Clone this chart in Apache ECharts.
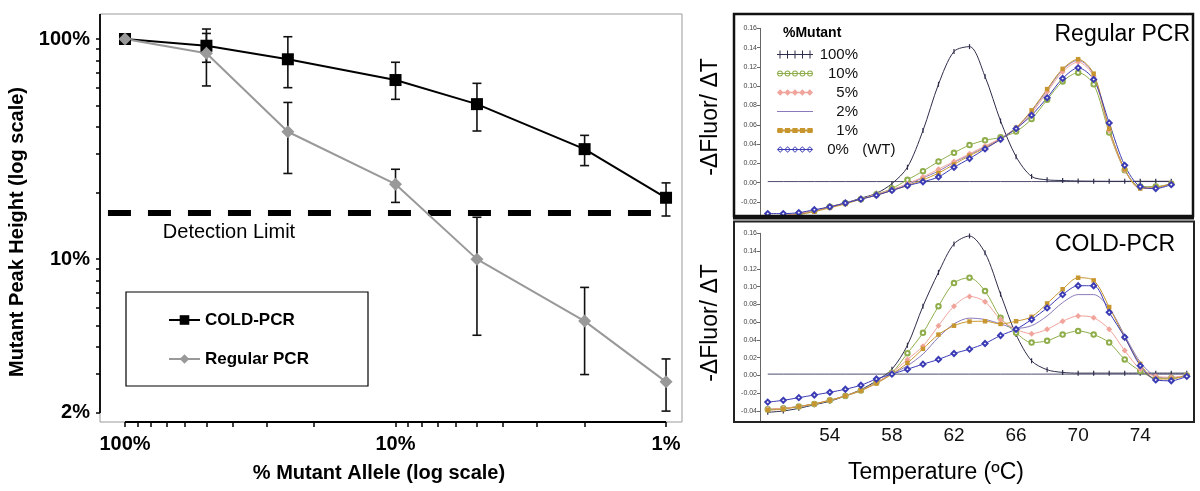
<!DOCTYPE html>
<html><head><meta charset="utf-8">
<script src="https://cdn.jsdelivr.net/npm/echarts@6/dist/echarts.min.js"></script>
<style>html,body{margin:0;padding:0;background:#fff}#c{width:1200px;height:491px}</style>
</head><body><div id="c"></div>
<script>
// ---------- Left panel data ----------
const pctAllele = [100, 50, 25, 10, 5, 2, 1];
const coldPeak = [100, 93.2, 80.9, 65.1, 50.6, 31.6, 19.0];
const coldUpper = [null, 106, 102.4, 78.4, 62.9, 36.5, 22.2];
const coldLower = [null, 78.4, 60.1, 53.2, 38.2, 26.6, 15.7];
const regularPeak = [100, 86.1, 37.9, 21.9, 10.0, 5.23, 2.77];
const regularUpper = [null, 111, 51.5, 25.6, 15.5, 7.44, 3.52];
const regularLower = [null, 61.2, 24.5, 18.1, 4.51, 2.99, 2.04];
const detectionLimit = 16.2;
const detectionSpan = [115.6, 1.07];
const xTickValues = [1,2,3,4,5,6,7,8,9,10,20,30,40,50,60,70,80,90,100];
const xLabelValues = [1, 10, 100];
const yTickValues = [2,3,4,5,6,7,8,9,10,20,30,40,50,60,70,80,90,100];
const yLabelValues = [2, 10, 100];
const X_MIN = 0.873, X_MAX = 123.7, Y_MIN = 1.82, Y_MAX = 129.9;

// ---------- Right panels data ----------
const tempsTop = [50,51,52,53,54,55,56,57,58,59,60,61,62,63,64,65,66,67,68,69,70,71,72,73,74,75,76];
const reg100 = [-0.035,-0.035,-0.033,-0.029,-0.025,-0.021,-0.016,-0.011,-0.001,0.016,0.054,0.102,0.136,0.141,0.110,0.064,0.027,0.0065,0.003,0.0023,0.0018,0.0016,0.0015,0.0015,0.0015,0.0015,0.0015];
const reg10 = [-0.034,-0.034,-0.032,-0.029,-0.025,-0.021,-0.017,-0.012,-0.006,0.003,0.012,0.022,0.031,0.039,0.044,0.047,0.053,0.066,0.086,0.105,0.114,0.102,0.052,0.013,-0.004,-0.004,-0.001];
const reg5 = [-0.035,-0.034,-0.032,-0.029,-0.025,-0.021,-0.017,-0.012,-0.007,-0.001,0.006,0.014,0.022,0.030,0.038,0.046,0.056,0.072,0.094,0.115,0.125,0.110,0.054,0.013,-0.005,-0.005,-0.001];
const reg2 = [-0.035,-0.034,-0.032,-0.029,-0.025,-0.021,-0.017,-0.012,-0.008,-0.002,0.005,0.012,0.021,0.029,0.037,0.046,0.057,0.074,0.096,0.117,0.127,0.112,0.055,0.014,-0.005,-0.005,-0.001];
const reg1 = [-0.036,-0.035,-0.033,-0.030,-0.026,-0.022,-0.017,-0.013,-0.008,-0.003,0.003,0.010,0.019,0.028,0.036,0.045,0.057,0.075,0.097,0.118,0.128,0.113,0.056,0.014,-0.006,-0.005,-0.001];
const reg0 = [-0.032,-0.032,-0.031,-0.028,-0.025,-0.021,-0.017,-0.013,-0.008,-0.003,0.001,0.006,0.016,0.025,0.035,0.045,0.056,0.070,0.088,0.108,0.119,0.107,0.062,0.018,-0.004,-0.006,-0.002];
const regBase = [0.0012,0.0012,0.0012,0.0012,0.0012,0.0012,0.0012,0.0012,0.0012,0.0012,0.0012,0.0012,0.0012,0.0012,0.0012,0.0012,0.0012,0.0012,0.0012,0.0012,0.0012,0.0012,0.0012,0.0012,0.0012,0.0012,0.0012];

const tempsBottom = [50,51,52,53,54,55,56,57,58,59,60,61,62,63,64,65,66,67,68,69,70,71,72,73,74,75,76,77];
const cold100 = [-0.0415,-0.040,-0.037,-0.033,-0.029,-0.023,-0.016,-0.006,0.007,0.034,0.078,0.116,0.148,0.157,0.138,0.0915,0.046,0.0165,0.0064,0.0034,0.0026,0.0026,0.0026,0.0026,0.0026,0.0026,0.0026,0.0026];
const cold10 = [-0.038,-0.037,-0.035,-0.032,-0.028,-0.023,-0.017,-0.008,0.003,0.025,0.048,0.078,0.104,0.110,0.095,0.065,0.048,0.037,0.039,0.046,0.050,0.046,0.037,0.018,0.005,-0.003,-0.003,0.0];
const cold5 = [-0.038,-0.037,-0.035,-0.032,-0.028,-0.023,-0.017,-0.008,0.003,0.018,0.033,0.056,0.078,0.089,0.083,0.063,0.052,0.047,0.052,0.061,0.067,0.065,0.052,0.028,0.007,-0.001,-0.002,0.0];
const cold2 = [-0.039,-0.037,-0.035,-0.032,-0.028,-0.023,-0.017,-0.008,0.0015,0.011,0.024,0.043,0.058,0.0645,0.063,0.058,0.053,0.056,0.067,0.082,0.091,0.091,0.076,0.045,0.015,-0.001,-0.003,0.0];
const cold1 = [-0.039,-0.038,-0.035,-0.032,-0.028,-0.023,-0.017,-0.009,0.0015,0.014,0.030,0.046,0.056,0.0607,0.061,0.058,0.061,0.066,0.081,0.097,0.110,0.107,0.077,0.043,0.013,-0.004,-0.004,0.0];
const cold0 = [-0.030,-0.028,-0.025,-0.022,-0.019,-0.0155,-0.011,-0.004,0.0015,0.007,0.0127,0.018,0.0247,0.0296,0.036,0.045,0.052,0.063,0.076,0.091,0.101,0.101,0.071,0.043,0.011,-0.005,-0.006,-0.001];
const coldBase = [0.0015,0.0015,0.0015,0.0015,0.0015,0.0015,0.0015,0.0015,0.0015,0.0015,0.0015,0.0015,0.0015,0.0015,0.0015,0.0015,0.0015,0.0015,0.0015,0.0015,0.0015,0.0015,0.0015,0.0015,0.0015,0.0015,0.0015,0.0015];

const tempLabels = [54, 58, 62, 66, 70, 74];
const topYTicks = [-0.02,0,0.02,0.04,0.06,0.08,0.10,0.12,0.14,0.16];
const bottomYTicks = [-0.04,-0.02,0,0.02,0.04,0.06,0.08,0.10,0.12,0.14,0.16];
const mutantNames = ['100%','10%','5%','2%','1%','0% (WT)'];

const FONT = '"Liberation Sans", Arial, Helvetica, sans-serif';

// ---------- legend icon paths (36 x 10 box) ----------
const ICON_W = 36, MARKS = [3, 10.5, 18, 25.5, 33];
const lineBar = (h) => `M0,${5-h/2}H${ICON_W}V${5+h/2}H0Z`;
const circ = (cx, r, sweep) => `M${cx-r},5A${r},${r} 0 1,${sweep} ${cx+r},5A${r},${r} 0 1,${sweep} ${cx-r},5Z`;
const diam = (cx, r, cw) => cw ? `M${cx-r},5L${cx},${5-r}L${cx+r},5L${cx},${5+r}Z` : `M${cx-r},5L${cx},${5+r}L${cx+r},5L${cx},${5-r}Z`;
const iconPaths = [
  'path://' + lineBar(1) + MARKS.map(x => `M${x-0.5},1H${x+0.5}V9H${x-0.5}Z`).join(''),
  'path://' + lineBar(1) + MARKS.map(x => circ(x, 2.9, 1) + circ(x, 1.9, 0)).join(''),
  'path://' + lineBar(1.4) + MARKS.map(x => diam(x, 3.3, true)).join(''),
  'path://' + lineBar(1),
  'path://' + lineBar(2) + MARKS.map(x => `M${x-2.6},2.4H${x+2.6}V7.6H${x-2.6}Z`).join(''),
  'path://' + lineBar(1) + MARKS.map(x => diam(x, 3.3, true) + diam(x, 2.2, false)).join('')
];

const meltStyles = [
  {color:'#2e2e4c', symbol:'path://M0,0L1,0L1,8L0,8Z', size:[1.2,5], bw:0},
  {color:'#8fae4b', symbol:'emptyCircle', size:4.5, bw:0.9},
  {color:'#f0a49b', symbol:'diamond', size:6, bw:0},
  {color:'#8a7abb', symbol:'none', size:0, bw:0},
  {color:'#c8962f', symbol:'rect', size:4.5, bw:0},
  {color:'#3b3bb5', symbol:'emptyDiamond', size:5, bw:0.8}
];

function meltSeries(idx, temps, vals, axis) {
  const st = meltStyles[idx];
  return {
    type:'line', name: mutantNames[idx], xAxisIndex: axis, yAxisIndex: axis,
    data: temps.map((t,i)=>[t, vals[i]]),
    smooth: 0.3, symbol: st.symbol, symbolSize: st.size, showSymbol: st.symbol !== 'none',
    lineStyle:{color: st.color, width: 1}, itemStyle:{color: st.color, borderWidth: st.bw},
    silent: true, z: 3
  };
}
function baseSeries(temps, vals, axis) {
  return {type:'line', name:'baseline', xAxisIndex:axis, yAxisIndex:axis,
    data: temps.map((t,i)=>[t, vals[i]]), symbol:'none',
    lineStyle:{color:'#4d4d6e', width:1}, silent:true, z:2};
}
function errorBarSeries(upper, lower) {
  const data = [];
  pctAllele.forEach((x,i)=>{ if (upper[i] != null) data.push([x, lower[i], upper[i]]); });
  return {
    type:'custom', xAxisIndex:0, yAxisIndex:0, silent:true, z:2,
    encode:{x:0, y:[1,2]}, data,
    renderItem(params, api){
      const x = api.value(0);
      const lo = api.coord([x, api.value(1)]);
      const hi = api.coord([x, api.value(2)]);
      const w = 4.5;
      const style = {stroke:'#111', lineWidth:1.6};
      return {type:'group', children:[
        {type:'line', shape:{x1:hi[0],y1:hi[1],x2:lo[0],y2:lo[1]}, style},
        {type:'line', shape:{x1:hi[0]-w,y1:hi[1],x2:hi[0]+w,y2:hi[1]}, style},
        {type:'line', shape:{x1:lo[0]-w,y1:lo[1],x2:lo[0]+w,y2:lo[1]}, style}
      ]};
    }
  };
}

const chart = echarts.init(document.getElementById('c'), null, {renderer:'canvas'});
const rightYAxis = (gi, mn, ticks) => ({
  type:'value', gridIndex:gi, min:mn, max:0.16,
  axisLine:{show:true, lineStyle:{color:'#666', width:1}},
  axisTick:{show:true, customValues:ticks, length:3, lineStyle:{color:'#666'}},
  axisLabel:{customValues:ticks, fontSize:7, color:'#444', margin:3, fontFamily:FONT,
    formatter:v=>v.toFixed(2)},
  splitLine:{show:false}
});

const option = {
  animation:false,
  backgroundColor:'#fff',
  grid:[
    {left:100, top:14, width:582, height:408, show:true, borderColor:'#999', borderWidth:1, backgroundColor:'transparent'},
    {left:760, top:28.3, width:433, height:188.7},
    {left:760, top:233.3, width:433, height:188.7}
  ],
  xAxis:[
    {type:'log', gridIndex:0, inverse:true, min:X_MIN, max:X_MAX, logBase:10,
      axisLine:{show:false},
      axisTick:{show:true, customValues:xTickValues, length:5, lineStyle:{color:'#000', width:1.5}},
      axisLabel:{customValues:xLabelValues, formatter:v=>v+'%', fontSize:20, fontWeight:'bold', color:'#000', margin:12, fontFamily:FONT},
      splitLine:{show:false}, minorTick:{show:false}},
    {type:'value', gridIndex:1, min:49.5, max:77.4, show:false},
    {type:'value', gridIndex:2, min:49.5, max:77.4,
      axisLine:{show:false}, axisTick:{show:false}, splitLine:{show:false},
      axisLabel:{customValues:tempLabels, fontSize:19, color:'#111', margin:4, fontFamily:FONT}}
  ],
  yAxis:[
    {type:'log', gridIndex:0, min:Y_MIN, max:Y_MAX, logBase:10,
      axisLine:{show:false},
      axisTick:{show:true, customValues:yTickValues, length:4, lineStyle:{color:'#000', width:1.5}},
      axisLabel:{customValues:yLabelValues, formatter:v=>v+'%', fontSize:20, fontWeight:'bold', color:'#000', margin:10, fontFamily:FONT},
      splitLine:{show:false}, minorTick:{show:false}},
    rightYAxis(1, -0.0355, topYTicks),
    rightYAxis(2, -0.0524, bottomYTicks)
  ],
  legend:[
    {data:['COLD-PCR','Regular PCR'], orient:'vertical', left:163, top:306,
      itemWidth:31, itemHeight:12, itemGap:21, selectedMode:false,
      textStyle:{fontSize:17, fontWeight:'bold', color:'#000', lineHeight:18, fontFamily:FONT}},
    {data:mutantNames.map((n,i)=>({name:n, icon:iconPaths[i]})), orient:'vertical', left:772, top:42,
      itemWidth:36, itemHeight:10, itemGap:4, selectedMode:false, symbolKeepAspect:true,
      itemStyle:{borderWidth:0},
      formatter: n => n === '0% (WT)' ? '{w|0%} (WT)' : '{w|' + n + '}',
      textStyle:{fontSize:15, color:'#111', lineHeight:15, fontFamily:FONT,
        rich:{w:{width:40, align:'right', fontSize:15, lineHeight:15, color:'#111', fontFamily:FONT}}}}
  ],
  graphic:[
    {type:'text', x:17, y:232, rotation:Math.PI/2, style:{text:'Mutant Peak Height (log scale)', font:'bold 20px '+FONT, fill:'#000', align:'center', verticalAlign:'middle'}},
    {type:'text', x:379, y:473, style:{text:'% Mutant Allele (log scale)', font:'bold 20px '+FONT, fill:'#000', align:'center', verticalAlign:'middle'}},
    {type:'text', x:229, y:232, style:{text:'Detection Limit', font:'20px '+FONT, fill:'#000', align:'center', verticalAlign:'middle'}},
    {type:'rect', shape:{x:126, y:292, width:242, height:94}, style:{fill:null, stroke:'#000', lineWidth:1.2}, z:10},
    {type:'rect', shape:{x:734, y:14, width:459, height:202}, style:{fill:null, stroke:'#111', lineWidth:2.5}, z:10},
    {type:'line', shape:{x1:733, y1:217.5, x2:1194, y2:217.5}, style:{stroke:'#111', lineWidth:4}, z:10},
    {type:'rect', shape:{x:734, y:221.5, width:460, height:200.5}, style:{fill:null, stroke:'#222', lineWidth:2}, z:10},
    {type:'text', x:1190, y:35, style:{text:'Regular PCR', font:'23px '+FONT, fill:'#000', align:'right', verticalAlign:'middle'}, z:11},
    {type:'text', x:1175, y:245, style:{text:'COLD-PCR', font:'23px '+FONT, fill:'#000', align:'right', verticalAlign:'middle'}, z:11},
    {type:'text', x:783, y:33, style:{text:'%Mutant', font:'bold 14px '+FONT, fill:'#000', align:'left', verticalAlign:'middle'}, z:11},
    {type:'text', x:711, y:117, rotation:Math.PI/2, style:{text:'-ΔFluor/ ΔT', font:'23px '+FONT, fill:'#000', align:'center', verticalAlign:'middle'}},
    {type:'text', x:711, y:323, rotation:Math.PI/2, style:{text:'-ΔFluor/ ΔT', font:'23px '+FONT, fill:'#000', align:'center', verticalAlign:'middle'}},
    {type:'text', x:936, y:473, style:{text:'Temperature (ºC)', font:'23px '+FONT, fill:'#000', align:'center', verticalAlign:'middle'}}
  ],
  series:[
    {type:'custom', xAxisIndex:0, yAxisIndex:0, silent:true, z:4, data:[[100, 2]],
      renderItem(params, api){
        const a = api.coord([X_MAX, Y_MAX]), b = api.coord([X_MAX, yLabelValues[0]]);
        const c = api.coord([xLabelValues[2], Y_MIN]), d = api.coord([xLabelValues[0], Y_MIN]);
        const style = {stroke:'#000', lineWidth:1.8};
        return {type:'group', children:[
          {type:'line', shape:{x1:a[0], y1:a[1], x2:b[0], y2:b[1]}, style},
          {type:'line', shape:{x1:c[0], y1:c[1], x2:d[0], y2:d[1]}, style}
        ]};
      }},
    {type:'line', name:'Detection Limit', xAxisIndex:0, yAxisIndex:0, silent:true, z:1,
      data:[[detectionSpan[0], detectionLimit],[detectionSpan[1], detectionLimit]], symbol:'none',
      lineStyle:{color:'#000', width:6, type:[23,17]}},
    errorBarSeries(coldUpper, coldLower),
    errorBarSeries(regularUpper, regularLower),
    {type:'line', name:'COLD-PCR', xAxisIndex:0, yAxisIndex:0, silent:true, z:3,
      data:pctAllele.map((x,i)=>[x, coldPeak[i]]), symbol:'rect', symbolSize:12,
      lineStyle:{color:'#000', width:2}, itemStyle:{color:'#000'}},
    {type:'line', name:'Regular PCR', xAxisIndex:0, yAxisIndex:0, silent:true, z:3,
      data:pctAllele.map((x,i)=>[x, regularPeak[i]]), symbol:'diamond', symbolSize:13,
      lineStyle:{color:'#999', width:2}, itemStyle:{color:'#999'}},
    baseSeries(tempsTop, regBase, 1),
    meltSeries(0, tempsTop, reg100, 1),
    meltSeries(3, tempsTop, reg2, 1),
    meltSeries(1, tempsTop, reg10, 1),
    meltSeries(2, tempsTop, reg5, 1),
    meltSeries(4, tempsTop, reg1, 1),
    meltSeries(5, tempsTop, reg0, 1),
    baseSeries(tempsBottom, coldBase, 2),
    meltSeries(0, tempsBottom, cold100, 2),
    meltSeries(3, tempsBottom, cold2, 2),
    meltSeries(1, tempsBottom, cold10, 2),
    meltSeries(2, tempsBottom, cold5, 2),
    meltSeries(4, tempsBottom, cold1, 2),
    meltSeries(5, tempsBottom, cold0, 2)
  ]
};
chart.setOption(option);
</script></body></html>
